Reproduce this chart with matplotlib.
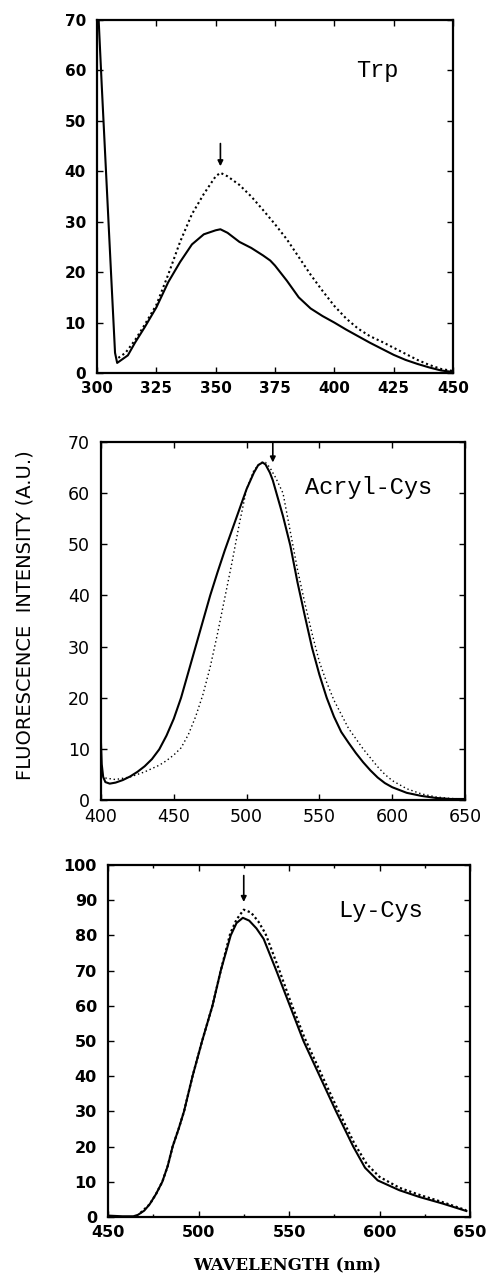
import matplotlib
matplotlib.use("Agg")
import matplotlib.pyplot as plt
import numpy as np

W, H = 487, 1276

# --- Trp panel ---
trp_solid_x = [300, 300.7, 302, 304, 306, 307.6, 308.5, 310, 313, 316, 320, 325, 330, 335, 340, 345,
               350, 352, 355, 360, 365, 370, 373, 375, 380, 385, 390, 395, 400, 405, 410, 415, 420,
               425, 430, 435, 440, 445, 450]
trp_solid_y = [72, 70, 57, 38, 19, 4, 2, 2.5, 3.5, 6, 9, 13, 18, 22, 25.5, 27.5,
               28.3, 28.5, 27.8, 26, 24.8, 23.3, 22.3, 21.3, 18.3, 15, 12.8, 11.3, 10, 8.6, 7.3, 6, 4.8,
               3.6, 2.6, 1.8, 1.1, 0.5, 0.2]
trp_dot_x = [309, 312, 316, 320, 325, 330, 335, 340, 345, 350, 352, 355, 360, 365, 370, 375, 380,
             385, 390, 395, 400, 405, 410, 415, 420, 425, 430, 435, 440, 445, 450]
trp_dot_y = [3, 4, 6.5, 9.5, 13.5, 19.5, 26, 31.5, 35.5, 39, 39.7, 39, 37.3, 35, 32.3, 29.5, 26.5,
             23, 19.5, 16.3, 13.3, 10.8, 8.8, 7.3, 6.2, 5, 3.8, 2.6, 1.6, 0.8, 0.4]

# --- Acryl-Cys panel ---
acr_solid_x = [400, 400.5, 401.5, 403, 406, 410, 415, 420, 425, 430, 435, 440, 445, 450, 455, 460,
               465, 470, 475, 480, 485, 490, 495, 500, 505, 508, 511, 513, 516, 518, 520, 522, 525,
               530, 535, 540, 545, 550, 555, 560, 565, 570, 575, 580, 585, 590, 595, 600, 610, 620,
               630, 640, 650]
acr_solid_y = [11, 7, 4.5, 3.5, 3.2, 3.4, 3.9, 4.6, 5.5, 6.6, 8.0, 9.9, 12.6, 15.9, 20.0, 25,
               30, 35, 40, 44.5, 48.8, 52.8, 56.8, 60.8, 64, 65.5, 66, 65.6, 64, 62.5, 60.5, 58.5, 55.5,
               49.8, 42.5, 36, 29.7, 24.5, 20, 16.3, 13.3, 11.2, 9.2, 7.4, 5.8, 4.4, 3.3, 2.5, 1.4, 0.8,
               0.4, 0.2, 0.2]
acr_dot_x = [403, 410, 420, 430, 440, 445, 450, 455, 460, 465, 470, 475, 480, 485, 490, 495, 500,
             505, 510, 513, 516, 520, 525, 530, 535, 540, 545, 550, 555, 560, 570, 580, 590, 595,
             600, 610, 620, 630, 640, 650]
acr_dot_y = [4.3, 4, 4.5, 5.5, 6.8, 7.7, 8.8, 10.2, 12.8, 16.3, 20.6, 26, 32.5, 39.5, 46.5, 54, 60.8,
             64.5, 66, 66, 65, 63, 60, 52.5, 45, 38.5, 32.5, 27, 23, 19.5, 14, 10, 6.5, 5,
             3.8, 2.2, 1.2, 0.6, 0.3, 0.2]

# --- Ly-Cys panel ---
ly_solid_x = [450, 458, 464, 466.5, 470, 473, 476.5, 480, 483, 485.7, 489, 492, 496.7, 502, 507.7,
              512.3, 517.8, 521, 524.5, 528, 532, 536, 543, 550.5, 558, 567, 576, 585.5, 592, 599,
              611, 622, 635, 648]
ly_solid_y = [0.4, 0.2, 0.2, 0.6, 1.8, 3.6, 6.5, 10, 14.5, 20, 25, 30, 40, 50, 60,
              70, 80, 83.5, 85, 84.2, 82, 79, 70, 60, 50, 40, 30, 20, 14, 10.4,
              7.6, 5.7, 3.8, 1.7]
ly_dot_x = [468, 473, 476.5, 480, 483, 485.7, 489, 492, 496.7, 502, 507.7, 512.3, 517.5, 521, 525,
            529, 533, 537, 544, 551, 558.5, 567.5, 576.5, 586, 593, 600, 611, 622, 635, 648]
ly_dot_y = [1.2, 3.6, 6.5, 10, 14.5, 20, 25, 30, 40, 50, 60, 70, 80.5, 84.5, 87.3,
            86.5, 84, 80.5, 71, 61, 51, 41, 31, 21, 15, 11.4, 8.3, 6.3, 4.2, 1.9]

# arrows marking the peaks: x, tail value, head value
arrow_x = [352, 518, 525]
arrow_tail = [45.5, 70, 97]
arrow_head = [41, 66, 89.5]

labels = ["Trp", "Acryl-Cys", "Ly-Cys"]
label_xy = [(409, 60), (540, 61.2), (577, 87.2)]

xlims = [(300, 450), (400, 650), (450, 650)]
ylims = [(0, 70), (0, 70), (0, 100)]
xticks = [np.arange(300, 451, 25), np.arange(400, 651, 50), np.arange(450, 651, 50)]
yticks = [np.arange(0, 71, 10), np.arange(0, 71, 10), np.arange(0, 101, 10)]

# axes boxes in pixels: left, top, right, bottom
boxes = [(97, 20, 453, 373), (101, 442, 465, 800), (108, 865, 470, 1217)]

fig = plt.figure(figsize=(W / 100, H / 100), dpi=100)

series = [(trp_solid_x, trp_solid_y, trp_dot_x, trp_dot_y),
          (acr_solid_x, acr_solid_y, acr_dot_x, acr_dot_y),
          (ly_solid_x, ly_solid_y, ly_dot_x, ly_dot_y)]
dot_styles = [dict(lw=1.5, ls=(0, (1, 1.4))),
              dict(lw=1.0, ls=(0, (1, 2))),
              dict(lw=1.6, ls=(0, (1, 1.2)))]
tick_weight = ["bold", "normal", "bold"]
tick_size = [11, 12.5, 11.5]

for i in range(3):
    l, t, r, b = boxes[i]
    ax = fig.add_axes([l / W, 1 - b / H, (r - l) / W, (b - t) / H])
    sx, sy, dx, dy = series[i]
    ax.plot(sx, sy, color="black", lw=1.5, solid_joinstyle="round")
    ax.plot(dx, dy, color="black", **dot_styles[i])
    ax.set_xlim(*xlims[i])
    ax.set_ylim(*ylims[i])
    ax.set_xticks(xticks[i])
    ax.set_yticks(yticks[i])
    if i == 2:
        ax.set_xticks(np.arange(450, 651, 25), minor=True)
    ax.tick_params(direction="in", top=True, right=True, length=4, width=1,
                   labelsize=tick_size[i])
    ax.tick_params(axis="y", pad=8)
    ax.tick_params(axis="x", pad=6)
    ax.tick_params(which="minor", direction="in", top=True, length=2.5, width=1)
    for lab in ax.get_xticklabels() + ax.get_yticklabels():
        lab.set_fontweight(tick_weight[i])
        lab.set_family("DejaVu Sans")
    for sp in ax.spines.values():
        sp.set_linewidth(1.6)
    ax.annotate("", xy=(arrow_x[i], arrow_head[i]), xytext=(arrow_x[i], arrow_tail[i]),
                arrowprops=dict(arrowstyle="-|>", color="black", lw=1.2,
                                mutation_scale=8, shrinkA=0, shrinkB=0))
    ax.text(label_xy[i][0], label_xy[i][1], labels[i], fontsize=17,
            family="Liberation Mono", va="center", ha="left")

fig.text(25 / W, 1 - 615 / H, "FLUORESCENCE  INTENSITY (A.U.)", rotation=90,
         fontsize=14, ha="center", va="center", family="DejaVu Sans")
fig.text(287 / W, 1 - 1266 / H, "WAVELENGTH (nm)", fontsize=12, fontweight="bold",
         ha="center", va="center", family="DejaVu Serif")

fig.savefig("out.png", dpi=100)
